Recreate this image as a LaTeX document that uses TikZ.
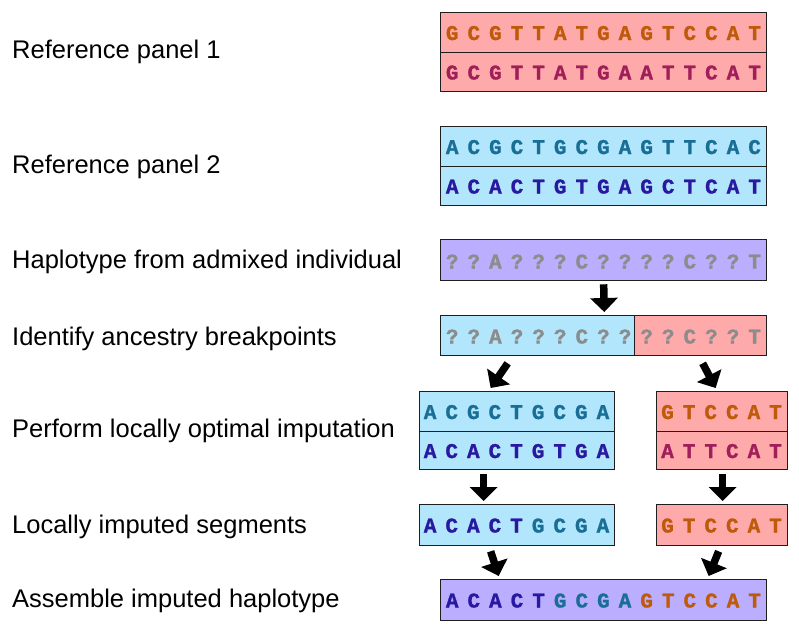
\documentclass[tikz,border=0pt]{standalone}
\usepackage{fontspec}
\setmainfont{Liberation Sans}
\newfontfamily\seqfont[BoldFeatures={FakeBold=1.2}]{Liberation Mono}
\usetikzlibrary{arrows.meta,calc}
\definecolor{pinkfill}{RGB}{255,170,170}
\definecolor{bluefill}{RGB}{178,230,252}
\definecolor{purplefill}{RGB}{187,174,255}
\definecolor{cO}{RGB}{190,90,10}
\definecolor{cM}{RGB}{160,30,90}
\definecolor{cT}{RGB}{25,110,150}
\definecolor{cB}{RGB}{40,25,160}
\definecolor{cG}{RGB}{140,140,140}
\definecolor{edge}{RGB}{30,30,30}
\tikzset{
  seqbox/.style={draw=edge, line width=1.3pt, inner sep=0pt, anchor=north west},
  lab/.style={anchor=base west, inner sep=0pt, font=\fontsize{25.5}{28}\selectfont},
  base/.style={anchor=base, inner sep=0pt, font=\seqfont\bfseries\fontsize{21}{22}\selectfont},
  bigarrow/.style={line width=7.5pt, -{Triangle[length=14pt,width=27pt]}},
}
\newcommand\dnaseq[3]{%
  \foreach \l/\c [count=\i from 0] in {#3}
    \node[base, text=\c] at ({#1+\i*21.6}, #2) {\l};}
\begin{document}
\begin{tikzpicture}[x=1pt, y=-1pt]
\useasboundingbox (0,0) rectangle (799,633);
% labels
\node[lab] (l1) at (12,58) {Reference panel 1};
\node[lab] (l2) at (12,173) {Reference panel 2};
\node[lab] (l3) at (12,268) {Haplotype from admixed individual};
\node[lab] (l4) at (12,345) {Identify ancestry breakpoints};
\node[lab] (l5) at (12,437) {Perform locally optimal imputation};
\node[lab] (l6) at (12,533) {Locally imputed segments};
\node[lab] (l7) at (12,607) {Assemble imputed haplotype};
% boxes
\node[seqbox, fill=pinkfill, minimum width=326, minimum height=40] (r1a) at (440,12) {};
\node[seqbox, fill=pinkfill, minimum width=326, minimum height=39] (r1b) at (440,52) {};
\node[seqbox, fill=bluefill, minimum width=326, minimum height=40] (r2a) at (440,126) {};
\node[seqbox, fill=bluefill, minimum width=326, minimum height=39] (r2b) at (440,166) {};
\node[seqbox, fill=purplefill, minimum width=326, minimum height=41] (hap) at (440,239) {};
\node[seqbox, fill=bluefill, minimum width=194, minimum height=40] (brkL) at (440,315) {};
\node[seqbox, fill=pinkfill, minimum width=132, minimum height=40] (brkR) at (634,315) {};
\node[seqbox, fill=bluefill, minimum width=195, minimum height=40] (impLa) at (419,391) {};
\node[seqbox, fill=bluefill, minimum width=195, minimum height=38] (impLb) at (419,431) {};
\node[seqbox, fill=pinkfill, minimum width=131, minimum height=40] (impRa) at (656,391) {};
\node[seqbox, fill=pinkfill, minimum width=131, minimum height=38] (impRb) at (656,431) {};
\node[seqbox, fill=bluefill, minimum width=195, minimum height=41] (segL) at (419,504) {};
\node[seqbox, fill=pinkfill, minimum width=131, minimum height=41] (segR) at (656,504) {};
\node[seqbox, fill=purplefill, minimum width=326, minimum height=41] (fin) at (440,579) {};
% sequences
\dnaseq{452.2}{40}{G/cO,C/cO,G/cO,T/cO,T/cO,A/cO,T/cO,G/cO,A/cO,G/cO,T/cO,C/cO,C/cO,A/cO,T/cO}
\dnaseq{452.2}{79.5}{G/cM,C/cM,G/cM,T/cM,T/cM,A/cM,T/cM,G/cM,A/cM,A/cM,T/cM,T/cM,C/cM,A/cM,T/cM}
\dnaseq{452.2}{154}{A/cT,C/cT,G/cT,C/cT,T/cT,G/cT,C/cT,G/cT,A/cT,G/cT,T/cT,T/cT,C/cT,A/cT,C/cT}
\dnaseq{452.2}{193.5}{A/cB,C/cB,A/cB,C/cB,T/cB,G/cB,T/cB,G/cB,A/cB,G/cB,C/cB,T/cB,C/cB,A/cB,T/cB}
\dnaseq{452.2}{268.5}{?/cG,?/cG,A/cG,?/cG,?/cG,?/cG,C/cG,?/cG,?/cG,?/cG,?/cG,C/cG,?/cG,?/cG,T/cG}
\dnaseq{452.2}{343.5}{?/cG,?/cG,A/cG,?/cG,?/cG,?/cG,C/cG,?/cG,?/cG,?/cG,?/cG,C/cG,?/cG,?/cG,T/cG}
\dnaseq{430.1}{419}{A/cT,C/cT,G/cT,C/cT,T/cT,G/cT,C/cT,G/cT,A/cT}
\dnaseq{430.1}{458}{A/cB,C/cB,A/cB,C/cB,T/cB,G/cB,T/cB,G/cB,A/cB}
\dnaseq{667.5}{419}{G/cO,T/cO,C/cO,C/cO,A/cO,T/cO}
\dnaseq{667.5}{458}{A/cM,T/cM,T/cM,C/cM,A/cM,T/cM}
\dnaseq{430.1}{532.5}{A/cB,C/cB,A/cB,C/cB,T/cB,G/cT,C/cT,G/cT,A/cT}
\dnaseq{667.5}{532.5}{G/cO,T/cO,C/cO,C/cO,A/cO,T/cO}
\dnaseq{452.2}{607.5}{A/cB,C/cB,A/cB,C/cB,T/cB,G/cT,C/cT,G/cT,A/cT,G/cO,T/cO,C/cO,C/cO,A/cO,T/cO}
% arrows
\draw[bigarrow] ($(hap.south)+(0,3)$) -- ($(brkL.north east)+(-31,-3)$);
\draw[bigarrow] ($(brkL.south)+(-30,7)$) -- ($(impLa.north)+(-26.5,-3)$);
\draw[bigarrow] ($(brkR.south)+(2,7)$) -- ($(impRa.north)+(-6.5,-3)$);
\draw[bigarrow] ($(impLb.south)+(-33.5,4)$) -- ($(segL.north)+(-33.5,-3)$);
\draw[bigarrow] ($(impRb.south)+(0.5,4)$) -- ($(segR.north)+(0.5,-3)$);
\draw[bigarrow] ($(segL.south)+(-26.5,5)$) -- ($(fin.north)+(-105,-3)$);
\draw[bigarrow] ($(segR.south)+(-3.5,5)$) -- ($(fin.north)+(105,-3)$);
\end{tikzpicture}
\end{document}
